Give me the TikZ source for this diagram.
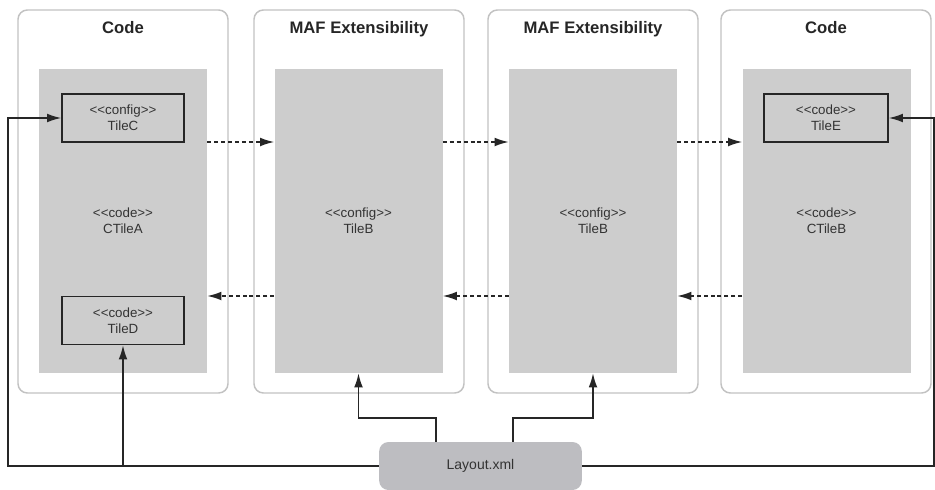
\documentclass[tikz,border=0pt]{standalone}
\usepackage{fontspec}
\setmainfont{Liberation Sans}
\usetikzlibrary{arrows.meta}
\definecolor{panelgray}{HTML}{C2C2C2}
\definecolor{innergray}{HTML}{CDCDCD}
\definecolor{layoutgray}{HTML}{BDBDC1}
\definecolor{textgray}{HTML}{333333}
\newcommand{\stereo}[1]{<\kern0pt<#1>\kern0pt>}

\begin{document}
\begin{tikzpicture}[x=0.75pt, y=-0.75pt, >={Latex[length=10.5pt,width=6.5pt]},
    panel/.style={draw=panelgray, line width=1.1pt, rounded corners=7pt,
        minimum width=157.5pt, minimum height=287.25pt},
    inner/.style={fill=innergray, minimum width=126pt, minimum height=228pt,
        align=center, text=textgray, font=\fontsize{10}{12}\selectfont},
    tile/.style={draw=black!85, line width=1.2pt, fill=innergray,
        minimum width=91.5pt, minimum height=36pt, inner sep=0pt,
        align=center, text=textgray, font=\fontsize{10}{12}\selectfont},
    title/.style={font=\fontsize{12.5}{15}\selectfont\bfseries, text=black!85,
        anchor=base},
    conn/.style={->, line width=1.1pt, black!85},
    dasharrow/.style={->, line width=1.1pt, black!85, dash pattern=on 3pt off 2.2pt}]

    \useasboundingbox (0,0) rectangle (935,489);

    % 四个外框
    \node[panel] (p1) at (123,201.5) {};
    \node[panel] (p2) at (359,201.5) {};
    \node[panel] (p3) at (593,201.5) {};
    \node[panel] (p4) at (826,201.5) {};

    % 标题
    \node[title] (t1) at (123,33) {Code};
    \node[title] (t2) at (359,33) {MAF Extensibility};
    \node[title] (t3) at (593,33) {MAF Extensibility};
    \node[title] (t4) at (826,33) {Code};

    % 灰色内框
    \node[inner] (in1) at (123,221) {\stereo{code}\\CTileA};
    \node[inner] (in2) at (358.5,221) {\stereo{config}\\TileB};
    \node[inner] (in3) at (593,221) {\stereo{config}\\TileB};
    \node[inner] (in4) at (826.5,221) {\stereo{code}\\CTileB};

    % 小块
    \node[tile] (tc) at (123,118) {\stereo{config}\\TileC};
    \node[tile] (td) at (123,320.5) {\stereo{code}\\TileD};
    \node[tile, minimum width=93pt] (te) at (826,118) {\stereo{code}\\TileE};

    % Layout.xml
    \node[fill=layoutgray, rounded corners=7pt, minimum width=152pt, minimum height=36pt,
        text=textgray, font=\fontsize{10.5}{12}\selectfont] (lay) at (480.5,466) {Layout.xml};

    % 虚线箭头
    \coordinate (up) at (0,142);
    \coordinate (dn) at (0,296);
    \draw[dasharrow] (in1.east |- up) -- (in2.west |- up);
    \draw[dasharrow] (in2.east |- up) -- (in3.west |- up);
    \draw[dasharrow] (in3.east |- up) -- (in4.west |- up);
    \draw[dasharrow] (in4.west |- dn) -- (in3.east |- dn);
    \draw[dasharrow] (in3.west |- dn) -- (in2.east |- dn);
    \draw[dasharrow] (in2.west |- dn) -- (in1.east |- dn);

    % 实线连接
    \coordinate (lft) at (8,0);
    \coordinate (rgt) at (934,0);
    \coordinate (b1) at (436,418);
    \coordinate (b2) at (513,418);
    \draw[conn] (lay.west) -| (lft |- tc.west) -- (tc.west);
    \draw[conn] (td.south |- lay.west) -- (td.south);
    \draw[conn] (lay.east) -| (rgt |- te.east) -- (te.east);
    \draw[conn] (b1 |- lay.north) -- (b1) -| (in2.south);
    \draw[conn] (b2 |- lay.north) -- (b2) -| (in3.south);
\end{tikzpicture}
\end{document}
